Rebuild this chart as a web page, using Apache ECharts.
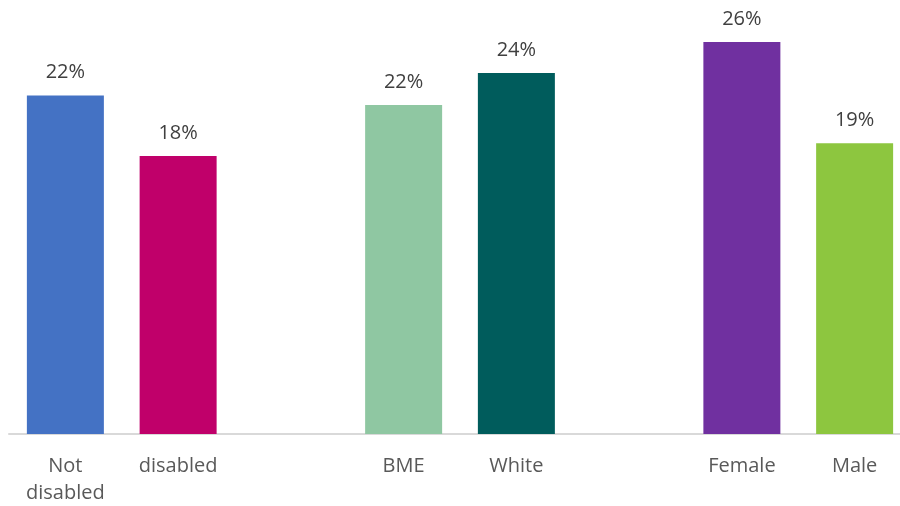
<!DOCTYPE html>
<html>
<head>
<meta charset="utf-8">
<script src="https://cdn.jsdelivr.net/npm/echarts@6/dist/echarts.min.js"></script>
<style>
html, body { margin: 0; padding: 0; background: #fff; }
#chart { width: 900px; height: 506px; }
</style>
</head>
<body>
<div id="chart"></div>
<script>
// categories (empty slots are the gaps between groups)
var categories = ['Not\ndisabled', 'disabled', '', 'BME', 'White', '', 'Female', 'Male'];
var values = [22.45, 18.44, null, 21.82, 23.94, null, 26.0, 19.28];
var colors = ['#4472C4', '#C0006A', null, '#8FC7A2', '#005C5C', null, '#7030A0', '#8DC63F'];

(function() {
    var myChart = echarts.init(document.getElementById('chart'));
    var data = values.map(function(v, i) {
        if (v === null) return '-';
        return { value: v, itemStyle: { color: colors[i] } };
    });
    var option = {
        animation: false,
        grid: { left: 9, width: 902, top: 0, bottom: 72, outerBoundsMode: 'none', containLabel: false },
        xAxis: {
            type: 'category',
            data: categories,
            axisTick: { show: false },
            axisLine: { lineStyle: { color: '#D9D9D9', width: 2 } },
            axisLabel: {
                color: '#595959',
                fontSize: 20,
                fontFamily: 'Open Sans',
                margin: 19,
                lineHeight: 27,
                interval: 0
            }
        },
        yAxis: {
            type: 'value',
            min: 0,
            max: 28.78,
            show: false,
            splitLine: { show: false }
        },
        series: [{
            type: 'bar',
            barWidth: 77,
            data: data,
            label: {
                show: true,
                position: 'top',
                distance: 13,
                color: '#404040',
                fontSize: 20,
                fontFamily: 'Open Sans',
                formatter: function(p) { return Math.round(p.value) + '%'; }
            }
        }]
    };
    myChart.setOption(option);
})();
</script>
</body>
</html>
